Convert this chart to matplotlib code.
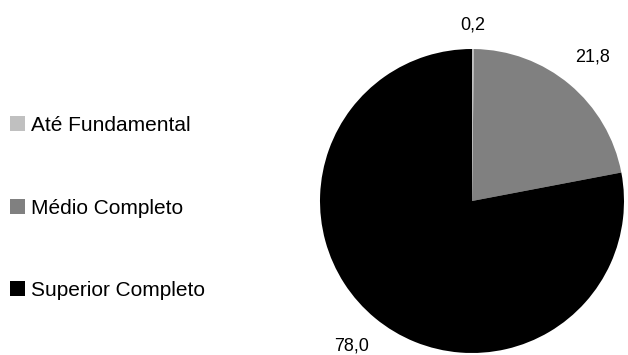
import numpy as np
import matplotlib
matplotlib.use("Agg")
import matplotlib.pyplot as plt

plt.rcParams['font.family'] = ['Liberation Sans', 'DejaVu Sans']

# education level shares (%)
categories = ["Até Fundamental", "Médio Completo", "Superior Completo"]
values = [0.2, 21.8, 78.0]
value_labels = ["0,2", "21,8", "78,0"]
colors = ["#c0c0c0", "#808080", "#000000"]

W, H = 628, 355
fig = plt.figure(figsize=(W / 100, H / 100), dpi=100)

# pie axes: centre (472, 201), radius 152 px
cx, cy, r = 472, 201, 152
ax = fig.add_axes([(cx - r) / W, (H - cy - r) / H, 2 * r / W, 2 * r / H])
wedges, _ = ax.pie(values, colors=colors, startangle=90, counterclock=False,
                   radius=1.0, wedgeprops=dict(linewidth=0))
ax.set_xlim(-1, 1)
ax.set_ylim(-1, 1)
ax.set_aspect('equal')
ax.axis('off')

# value labels placed outside each wedge
label_dist = [1.16, 1.24, 1.24]
for w, lab, d in zip(wedges, value_labels, label_dist):
    ang = np.deg2rad((w.theta1 + w.theta2) / 2)
    ax.text(d * np.cos(ang), d * np.sin(ang), lab, ha='center', va='center',
            fontsize=13, clip_on=False)

fig.legend(wedges, categories, loc='center left',
           bbox_to_anchor=(10 / W, (H - 208) / H), frameon=False,
           fontsize=15, borderpad=0, borderaxespad=0,
           handlelength=0.72, handleheight=0.72, handletextpad=0.28,
           labelspacing=3.05)

fig.savefig("out.png", dpi=100)
